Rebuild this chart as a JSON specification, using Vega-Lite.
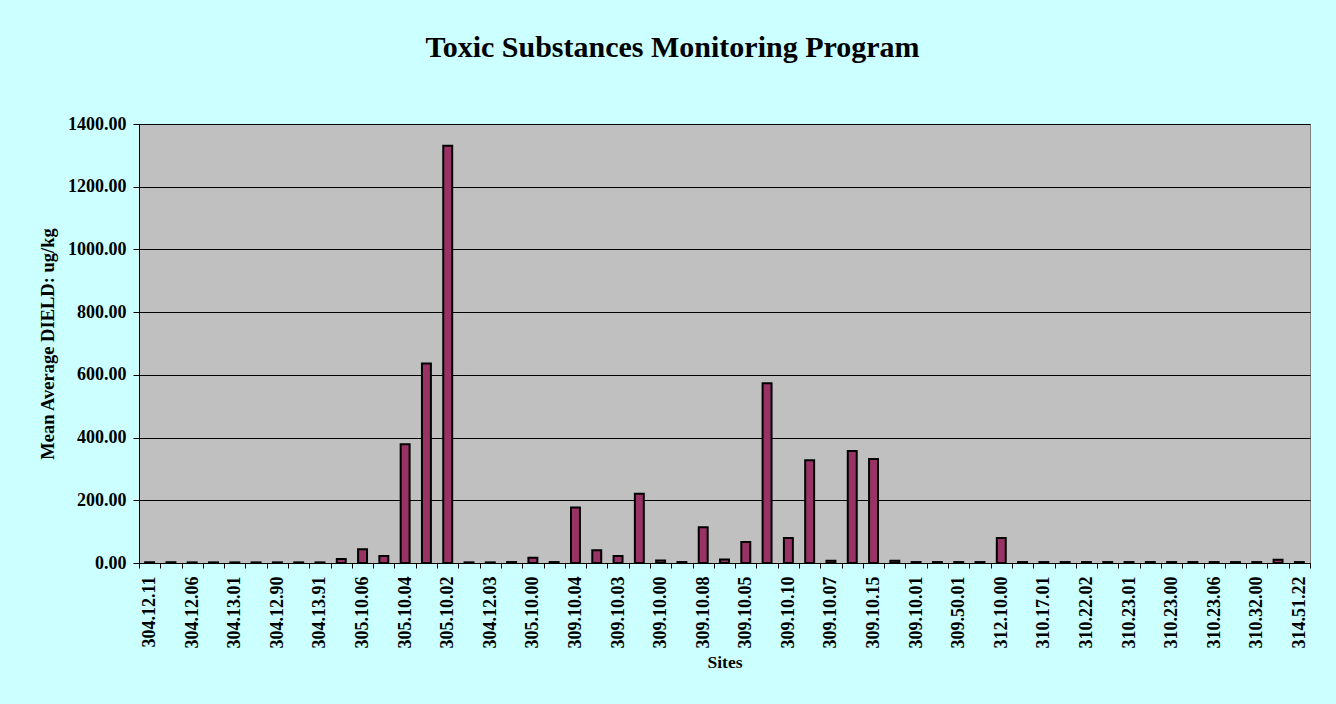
{
  "$schema": "https://vega.github.io/schema/vega-lite/v6.json",
  "width": 1171,
  "height": 439,
  "autosize": "none",
  "padding": {"left": 139, "top": 124, "right": 26, "bottom": 141},
  "background": "#CCFFFF",
  "title": {
    "text": "Toxic Substances Monitoring Program",
    "font": "Liberation Serif",
    "fontSize": 30,
    "fontWeight": "bold",
    "color": "black",
    "anchor": "middle",
    "frame": "group",
    "baseline": "alphabetic",
    "offset": 28,
    "dx": -52
  },
  "data": {
    "values": [
      {"site": "304.12.11", "value": 2},
      {"site": "304.12.10", "value": 2},
      {"site": "304.12.06", "value": 2},
      {"site": "304.12.05", "value": 2},
      {"site": "304.13.01", "value": 2},
      {"site": "304.13.00", "value": 2},
      {"site": "304.12.90", "value": 2},
      {"site": "304.12.91", "value": 2},
      {"site": "304.13.91", "value": 2},
      {"site": "305.10.07", "value": 13},
      {"site": "305.10.06", "value": 44},
      {"site": "305.10.05", "value": 22},
      {"site": "305.10.04", "value": 379},
      {"site": "305.10.03", "value": 636},
      {"site": "305.10.02", "value": 1331},
      {"site": "305.10.01", "value": 2},
      {"site": "304.12.03", "value": 2},
      {"site": "304.12.02", "value": 3},
      {"site": "305.10.00", "value": 17},
      {"site": "305.10.08", "value": 3},
      {"site": "309.10.04", "value": 177},
      {"site": "309.10.09", "value": 41},
      {"site": "309.10.03", "value": 22},
      {"site": "309.10.02", "value": 221},
      {"site": "309.10.00", "value": 8},
      {"site": "309.10.06", "value": 3},
      {"site": "309.10.08", "value": 114},
      {"site": "309.10.12", "value": 11},
      {"site": "309.10.05", "value": 67},
      {"site": "309.10.11", "value": 573},
      {"site": "309.10.10", "value": 80},
      {"site": "309.10.13", "value": 328},
      {"site": "309.10.07", "value": 7},
      {"site": "309.10.14", "value": 357},
      {"site": "309.10.15", "value": 332},
      {"site": "309.10.16", "value": 7},
      {"site": "309.10.01", "value": 3},
      {"site": "309.50.00", "value": 3},
      {"site": "309.50.01", "value": 3},
      {"site": "309.50.02", "value": 3},
      {"site": "312.10.00", "value": 80},
      {"site": "312.10.01", "value": 3},
      {"site": "310.17.01", "value": 3},
      {"site": "310.17.00", "value": 3},
      {"site": "310.22.02", "value": 3},
      {"site": "310.22.01", "value": 3},
      {"site": "310.23.01", "value": 3},
      {"site": "310.23.02", "value": 3},
      {"site": "310.23.00", "value": 3},
      {"site": "310.23.03", "value": 3},
      {"site": "310.23.06", "value": 3},
      {"site": "310.23.05", "value": 3},
      {"site": "310.32.00", "value": 3},
      {"site": "310.32.01", "value": 10},
      {"site": "314.51.22", "value": 3}
    ]
  },
  "mark": {
    "type": "bar",
    "color": "#993366",
    "stroke": "black",
    "strokeWidth": 2,
    "width": {"band": 0.42}
  },
  "encoding": {
    "x": {
      "field": "site",
      "type": "nominal",
      "sort": null,
      "title": "Sites",
      "scale": {"paddingInner": 0, "paddingOuter": 0},
      "axis": {
        "tickBand": "extent",
        "labelExpr": "indexof(['304.12.11','304.12.06','304.13.01','304.12.90','304.13.91','305.10.06','305.10.04','305.10.02','304.12.03','305.10.00','309.10.04','309.10.03','309.10.00','309.10.08','309.10.05','309.10.10','309.10.07','309.10.15','309.10.01','309.50.01','312.10.00','310.17.01','310.22.02','310.23.01','310.23.00','310.23.06','310.32.00','314.51.22'], datum.value) >= 0 ? datum.value : ''",
        "labelAngle": -90,
        "labelFont": "Liberation Serif",
        "labelFontSize": 18,
        "labelFontWeight": "bold",
        "labelColor": "black",
        "labelPadding": 8,
        "tickColor": "black",
        "tickSize": 5,
        "tickWidth": 1,
        "domainColor": "black",
        "domainWidth": 1,
        "grid": false,
        "titleFont": "Liberation Serif",
        "titleFontSize": 17.5,
        "titleFontWeight": "bold",
        "titleColor": "black",
        "titlePadding": 5
      }
    },
    "y": {
      "field": "value",
      "type": "quantitative",
      "title": "Mean Average DIELD: ug/kg",
      "scale": {"domain": [0, 1400], "nice": false},
      "axis": {
        "values": [0, 200, 400, 600, 800, 1000, 1200, 1400],
        "format": ".2f",
        "labelFont": "Liberation Serif",
        "labelFontSize": 18,
        "labelFontWeight": "bold",
        "labelColor": "black",
        "labelPadding": 7,
        "tickColor": "black",
        "tickSize": 6,
        "tickWidth": 1,
        "domainColor": "black",
        "domainWidth": 1,
        "grid": true,
        "gridColor": "black",
        "gridWidth": 1,
        "titleFont": "Liberation Serif",
        "titleFontSize": 18.5,
        "titleFontWeight": "bold",
        "titleColor": "black",
        "titlePadding": 10
      }
    }
  },
  "config": {
    "view": {"fill": "#C0C0C0", "stroke": "#808080", "strokeWidth": 1}
  }
}
